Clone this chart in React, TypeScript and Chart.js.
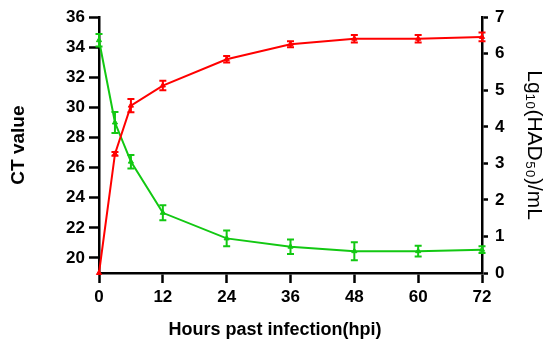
import React, { useEffect, useRef } from "react";
import { Chart, registerables } from "chart.js";

Chart.register(...registerables);

const hours = [0, 3, 6, 12, 24, 36, 48, 60, 72];
const ctValues = [34.47, 29.0, 26.4, 23.0, 21.3, 20.75, 20.45, 20.45, 20.55];
const ctErrors = [0.42, 0.7, 0.45, 0.5, 0.53, 0.48, 0.6, 0.36, 0.22];
const hadValues = [0, 3.26, 4.58, 5.13, 5.85, 6.26, 6.41, 6.41, 6.46];
const hadErrors = [0, 0.05, 0.18, 0.13, 0.09, 0.08, 0.1, 0.1, 0.12];

const xTicks = [0, 12, 24, 36, 48, 60, 72];
const ctTicks = [20, 22, 24, 26, 28, 30, 32, 34, 36];
const hadTicks = [0, 1, 2, 3, 4, 5, 6, 7];

const xTitle = "Hours past infection(hpi)";
const leftTitle = "CT value";
const rightTitle = "Lg\u2081\u2080(HAD\u2085\u2080)/mL";

const RED = "#ff0000";
const GREEN = "#12c812";
const FONT = '"Liberation Sans", Arial, sans-serif';

const errorBarPlugin = {
  id: "errorBars",
  afterDatasetsDraw(chart: any) {
    const ctx = chart.ctx;
    const xScale = chart.scales.x;
    chart.data.datasets.forEach((ds: any) => {
      const yScale = chart.scales[ds.yAxisID];
      const errs: number[] = ds.errors || [];
      ctx.save();
      ctx.strokeStyle = ds.borderColor;
      ctx.lineWidth = 2;
      ds.data.forEach((p: any, i: number) => {
        const e = errs[i] || 0;
        if (!e) return;
        const x = xScale.getPixelForValue(p.x);
        const yTop = yScale.getPixelForValue(p.y + e);
        const yBot = yScale.getPixelForValue(p.y - e);
        ctx.beginPath();
        ctx.moveTo(x, yTop);
        ctx.lineTo(x, yBot);
        ctx.moveTo(x - 3.5, yTop);
        ctx.lineTo(x + 3.5, yTop);
        ctx.moveTo(x - 3.5, yBot);
        ctx.lineTo(x + 3.5, yBot);
        ctx.stroke();
      });
      ctx.restore();
    });
  },
};

const xTitlePlugin = {
  id: "xTitle",
  afterDraw(chart: any) {
    const ctx = chart.ctx;
    ctx.save();
    ctx.font = `bold 18px ${FONT}`;
    ctx.fillStyle = "#000";
    ctx.textAlign = "center";
    ctx.textBaseline = "alphabetic";
    ctx.fillText(xTitle, chart.width / 2, 335);
    ctx.restore();
  },
};

const setTicks = (values: number[]) => (s: any) => {
  s.ticks = values.map((v) => ({ value: v }));
};

export default function App() {
  const ref = useRef<HTMLCanvasElement | null>(null);

  useEffect(() => {
    if (!ref.current) return;
    const tickFont = { family: FONT, size: 17, weight: "bold" };
    const chart = new Chart(ref.current, {
      type: "line",
      data: {
        datasets: [
          {
            label: "HAD50",
            data: hours.map((h, i) => ({ x: h, y: hadValues[i] })),
            errors: hadErrors,
            yAxisID: "y1",
            borderColor: RED,
            backgroundColor: RED,
            borderWidth: 2,
            pointStyle: "triangle",
            pointRadius: 3,
            pointBorderWidth: 1,
            clip: false,
          } as any,
          {
            label: "CT",
            data: hours.map((h, i) => ({ x: h, y: ctValues[i] })),
            errors: ctErrors,
            yAxisID: "y",
            borderColor: GREEN,
            backgroundColor: GREEN,
            borderWidth: 2,
            pointStyle: "triangle",
            pointRadius: 3,
            pointBorderWidth: 1,
            clip: false,
          } as any,
        ],
      },
      options: {
        responsive: false,
        animation: false,
        layout: { padding: { top: 17, left: 0, right: 0, bottom: 0 } },
        plugins: {
          legend: { display: false },
          tooltip: { enabled: false },
        },
        scales: {
          x: {
            type: "linear",
            min: 0,
            max: 72,
            afterFit: (s: any) => {
              s.height = 74;
            },
            afterBuildTicks: setTicks(xTicks),
            ticks: {
              color: "#000",
              font: tickFont,
              padding: 4,
              maxRotation: 0,
              autoSkip: false,
            },
            grid: {
              drawOnChartArea: false,
              drawTicks: true,
              tickLength: 10,
              tickWidth: 2.5,
              tickColor: "#000",
            },
            border: { display: true, color: "#000", width: 2.5 },
          },
          y: {
            type: "linear",
            position: "left",
            min: 19,
            max: 36,
            afterFit: (s: any) => {
              s.width = 99;
            },
            afterBuildTicks: setTicks(ctTicks),
            ticks: {
              color: "#000",
              font: tickFont,
              padding: 4,
              autoSkip: false,
            },
            grid: {
              drawOnChartArea: false,
              drawTicks: true,
              tickLength: 10,
              tickWidth: 2.5,
              tickColor: "#000",
            },
            border: { display: true, color: "#000", width: 2.5 },
            title: {
              display: true,
              text: leftTitle,
              color: "#000",
              font: { family: FONT, size: 19, weight: "bold" },
              padding: { top: 7, bottom: 0 },
            },
          },
          y1: {
            type: "linear",
            position: "right",
            min: 0,
            max: 7,
            afterFit: (s: any) => {
              s.width = 68;
            },
            afterBuildTicks: setTicks(hadTicks),
            ticks: {
              color: "#000",
              font: tickFont,
              padding: 7,
              autoSkip: false,
            },
            grid: {
              drawOnChartArea: false,
              drawTicks: true,
              tickLength: 6,
              tickWidth: 2.5,
              tickColor: "#000",
            },
            border: { display: true, color: "#000", width: 2.5 },
            title: {
              display: true,
              text: rightTitle,
              color: "#000",
              font: { family: FONT, size: 21, weight: "normal" },
              padding: { top: 4, bottom: 0 },
            },
          },
        },
      } as any,
      plugins: [errorBarPlugin, xTitlePlugin],
    });
    return () => chart.destroy();
  }, []);

  return (
    <div style={{ position: "absolute", left: 0, top: 0, width: 550, height: 347, background: "#fff" }}>
      <canvas ref={ref} width={550} height={347} style={{ display: "block" }} />
    </div>
  );
}
